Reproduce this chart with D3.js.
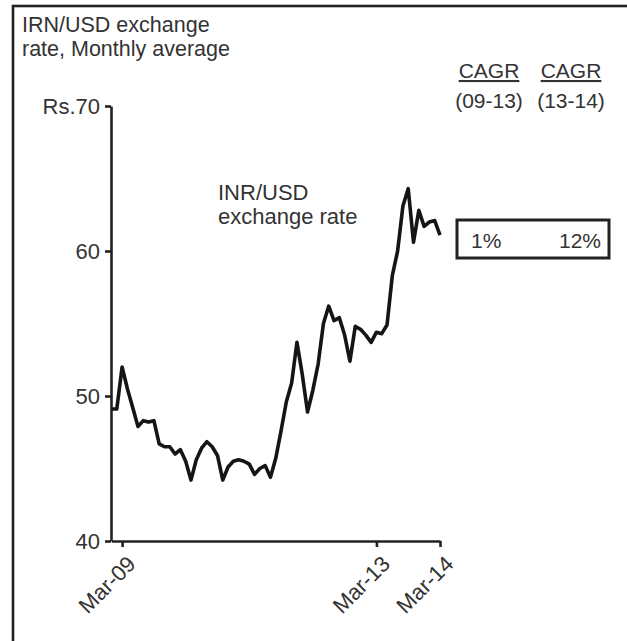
<!DOCTYPE html>
<html>
<head>
  <meta charset="utf-8">
  <script src="https://cdnjs.cloudflare.com/ajax/libs/d3/7.8.5/d3.min.js"></script>
  <title>INR/USD exchange rate</title>
  <style>
    body { margin: 0; background: #fff; }
    text { font-family: "Liberation Sans", Arial, sans-serif; fill: #333; }
    .axis path, .axis line { stroke: #222; stroke-width: 2.6px; }
    .axis text { font-size: 22px; fill: #333; }
  </style>
</head>
<body>
<script>
// monthly average INR per USD, Jan-09 .. Mar-14
const rate2009 = [49.1, 49.1, 52.0, 50.5, 49.2, 47.9, 48.3, 48.2, 48.3, 46.7, 46.5, 46.5];
const rate2010 = [46.0, 46.3, 45.5, 44.2, 45.6, 46.4, 46.85, 46.5, 45.9, 44.2, 45.1, 45.5];
const rate2011 = [45.6, 45.5, 45.3, 44.6, 45.0, 45.2, 44.4, 45.7, 47.6, 49.6, 50.9, 53.7];
const rate2012 = [51.5, 48.9, 50.4, 52.2, 55.0, 56.2, 55.2, 55.4, 54.2, 52.4, 54.8, 54.6];
const rate2013 = [54.2, 53.7, 54.4, 54.3, 54.9, 58.3, 60.0, 63.1, 64.3, 60.6, 62.8, 61.7];
const rate2014 = [62.0, 62.1, 61.1];
const rates = [].concat(rate2009, rate2010, rate2011, rate2012, rate2013, rate2014);

const fmt = d3.timeFormat("%b-%y");
const months = d3.timeMonth.range(new Date(2009, 0, 1), new Date(2014, 3, 1)).map(fmt);

const xTicks = ["Mar-09", "Mar-13", "Mar-14"];
const yTicks = [40, 50, 60, 70];
const cagrHeads = ["CAGR", "CAGR"];
const cagrPeriods = ["(09-13)", "(13-14)"];
const cagrValues = ["1%", "12%"];

const W = 627, H = 641;
const svg = d3.select("body").append("svg")
    .attr("width", W)
    .attr("height", H);

// frame (only top and left edges are inside the picture)
svg.append("rect")
    .attr("x", 13).attr("y", 6)
    .attr("width", W + 20).attr("height", H + 20)
    .attr("fill", "none")
    .attr("stroke", "#222")
    .attr("stroke-width", 2.6);

const x = d3.scalePoint()
    .domain(months)
    .range([111.5, 440]);

const y = d3.scaleLinear()
    .domain([40, 70])
    .range([541, 106]);

// y axis
svg.append("g")
    .attr("class", "axis")
    .attr("transform", "translate(111,0)")
    .call(d3.axisLeft(y)
        .tickValues(yTicks)
        .tickSize(6)
        .tickSizeOuter(0)
        .tickPadding(5)
        .tickFormat(d => d === 70 ? "Rs." + d : d));

// x axis
const gx = svg.append("g")
    .attr("class", "axis")
    .attr("transform", "translate(0,541)")
    .call(d3.axisBottom(x)
        .tickValues(xTicks)
        .tickSize(6)
        .tickSizeOuter(0));

gx.selectAll(".tick text")
    .attr("text-anchor", "end")
    .attr("dy", 0)
    .attr("transform", "translate(8,18) rotate(-45)");

// the rate line
const line = d3.line()
    .x((d, i) => x(months[i]))
    .y(d => y(d));

svg.append("path")
    .datum(rates)
    .attr("d", line)
    .attr("fill", "none")
    .attr("stroke", "#151515")
    .attr("stroke-width", 3.6)
    .attr("stroke-linejoin", "round");

// titles
const title = svg.append("text")
    .attr("x", 22).attr("y", 32)
    .style("font-size", "21.5px");
title.append("tspan").text("IRN/USD exchange");
title.append("tspan").attr("x", 22).attr("dy", 24).text("rate, Monthly average");

const lab = svg.append("text")
    .attr("x", 218).attr("y", 200)
    .style("font-size", "22px");
lab.append("tspan").text("INR/USD");
lab.append("tspan").attr("x", 218).attr("dy", 24).text("exchange rate");

// CAGR columns
const colX = [489, 571];
svg.selectAll(".cagr-head")
    .data(cagrHeads)
    .enter().append("text")
    .attr("class", "cagr-head")
    .attr("x", (d, i) => colX[i])
    .attr("y", 78)
    .attr("text-anchor", "middle")
    .style("font-size", "21px")
    .style("text-decoration", "underline")
    .text(d => d);

svg.selectAll(".cagr-period")
    .data(cagrPeriods)
    .enter().append("text")
    .attr("class", "cagr-period")
    .attr("x", (d, i) => colX[i])
    .attr("y", 108)
    .attr("text-anchor", "middle")
    .style("font-size", "21px")
    .text(d => d);

svg.append("rect")
    .attr("x", 457).attr("y", 220)
    .attr("width", 152).attr("height", 38)
    .attr("fill", "none")
    .attr("stroke", "#222")
    .attr("stroke-width", 3);

svg.selectAll(".cagr-val")
    .data(cagrValues)
    .enter().append("text")
    .attr("class", "cagr-val")
    .attr("x", (d, i) => i === 0 ? 471 : 601)
    .attr("y", 248)
    .attr("text-anchor", (d, i) => i === 0 ? "start" : "end")
    .style("font-size", "21px")
    .text(d => d);
</script>
</body>
</html>
